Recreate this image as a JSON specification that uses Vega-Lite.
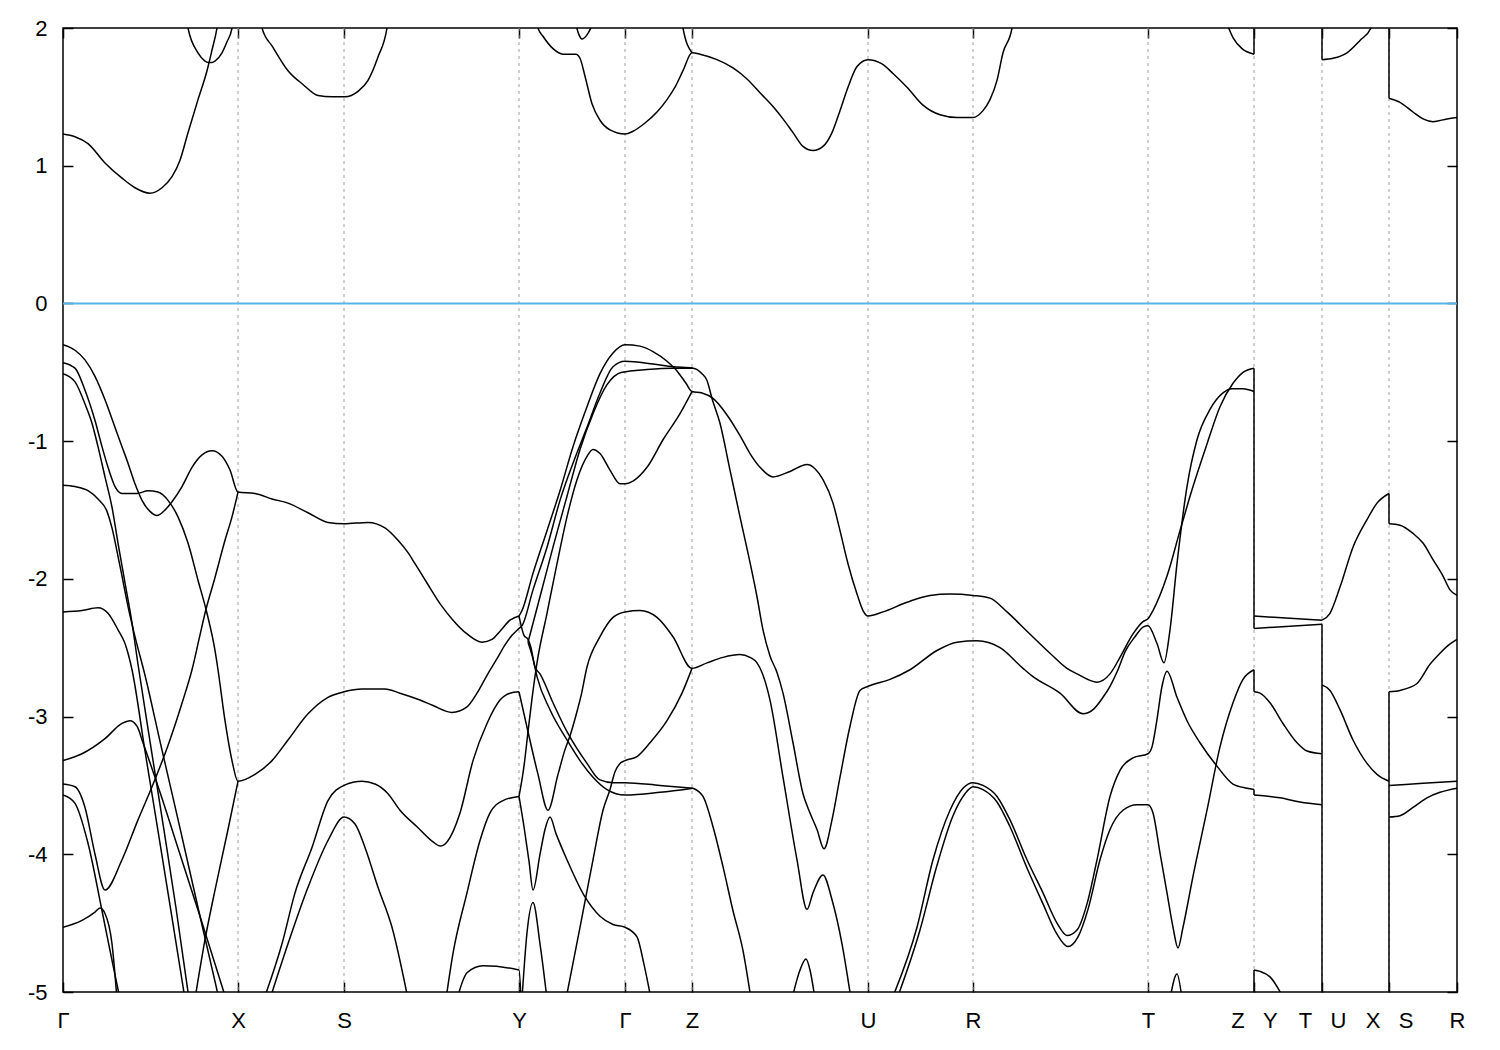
{
"$schema":"https://vega.github.io/schema/vega-lite/v6.json",
"width":1394,"height":964,
"autosize":{"type":"none"},
"padding":{"left":63,"top":28,"right":43,"bottom":58},
"background":"white",
"config":{"view":{"stroke":"black","strokeWidth":1.5},"font":"Liberation Sans"},
"resolve":{"axis":{"x":"independent","y":"independent"}},
"layer":[
{"data":{"values":[{"k":175},{"k":281},{"k":456},{"k":562},{"k":629},{"k":805},{"k":910},{"k":1085},{"k":1191},{"k":1259},{"k":1326}]},
 "mark":{"type":"rule","color":"#a0a0a0","strokeDash":[3,4],"strokeWidth":1},
 "encoding":{"x":{"field":"k","type":"quantitative","scale":{"domain":[0,1394],"nice":false,"zero":false},
  "axis":{"orient":"top","values":[0,175,281,456,562,629,805,910,1085,1191,1259,1326,1394],"labels":false,"tickSize":-10,"tickColor":"black","tickWidth":1.5,"domain":false,"grid":false,"title":null}}}},
{"data":{"values":[{"e":0}]},
 "mark":{"type":"rule","color":"#56b4e9","strokeWidth":2},
 "encoding":{"y":{"field":"e","type":"quantitative","scale":{"domain":[-5,2],"nice":false,"zero":false},
  "axis":{"orient":"right","values":[-5,-4,-3,-2,-1,0,1,2],"labels":false,"tickSize":-10,"tickColor":"black","tickWidth":1.5,"domain":false,"grid":false,"title":null}}}},
{"data":{"values":[
{"x":1191,"y":1.81,"y2":2.1},{"x":1259,"y":1.77,"y2":2.1},{"x":1326,"y":1.49,"y2":2.1},
{"x":1191,"y":-2.36,"y2":-0.47},{"x":1191,"y":-2.82,"y2":-2.66},{"x":1191,"y":-3.57,"y2":-3.53},{"x":1191,"y":-5.05,"y2":-4.84},
{"x":1259,"y":-5.05,"y2":-2.33},
{"x":1326,"y":-1.6,"y2":-1.38},{"x":1326,"y":-5.05,"y2":-2.82}]},
 "mark":{"type":"rule","color":"black","strokeWidth":1.5,"clip":true},
 "encoding":{"x":{"field":"x","type":"quantitative","axis":null},"y":{"field":"y","type":"quantitative","axis":null},"y2":{"field":"y2"}}},
{"data":{"values":[
{"b":"c1","x":0,"y":1.23},{"b":"c1","x":12,"y":1.21},{"b":"c1","x":25,"y":1.16},{"b":"c1","x":42,"y":1.02},{"b":"c1","x":59,"y":0.91},{"b":"c1","x":72,"y":0.84},{"b":"c1","x":87,"y":0.8},{"b":"c1","x":99,"y":0.84},{"b":"c1","x":109,"y":0.92},{"b":"c1","x":117,"y":1.04},{"b":"c1","x":125,"y":1.24},{"b":"c1","x":135,"y":1.48},{"b":"c1","x":144,"y":1.69},{"b":"c1","x":149,"y":1.84},{"b":"c1","x":154,"y":2.0},{"b":"c1","x":156,"y":2.1},
{"b":"c2","x":123,"y":2.1},{"b":"c2","x":125,"y":2.0},{"b":"c2","x":135,"y":1.82},{"b":"c2","x":142,"y":1.76},{"b":"c2","x":145,"y":1.75},{"b":"c2","x":149,"y":1.75},{"b":"c2","x":152,"y":1.76},{"b":"c2","x":159,"y":1.82},{"b":"c2","x":164,"y":1.9},{"b":"c2","x":169,"y":2.0},{"b":"c2","x":171,"y":2.1},
{"b":"c3","x":196,"y":2.1},{"b":"c3","x":199,"y":2.0},{"b":"c3","x":210,"y":1.86},{"b":"c3","x":225,"y":1.69},{"b":"c3","x":240,"y":1.59},{"b":"c3","x":255,"y":1.51},{"b":"c3","x":269,"y":1.5},{"b":"c3","x":282,"y":1.5},{"b":"c3","x":295,"y":1.54},{"b":"c3","x":305,"y":1.62},{"b":"c3","x":315,"y":1.79},{"b":"c3","x":324,"y":2.0},{"b":"c3","x":326,"y":2.1},
{"b":"c4","x":473,"y":2.1},{"b":"c4","x":475,"y":2.0},{"b":"c4","x":480,"y":1.94},{"b":"c4","x":490,"y":1.85},{"b":"c4","x":500,"y":1.81},{"b":"c4","x":513,"y":1.81},{"b":"c4","x":517,"y":1.78},{"b":"c4","x":522,"y":1.65},{"b":"c4","x":529,"y":1.45},{"b":"c4","x":537,"y":1.33},{"b":"c4","x":547,"y":1.26},{"b":"c4","x":562,"y":1.23},{"b":"c4","x":570,"y":1.25},{"b":"c4","x":582,"y":1.31},{"b":"c4","x":594,"y":1.39},{"b":"c4","x":604,"y":1.48},{"b":"c4","x":612,"y":1.57},{"b":"c4","x":620,"y":1.69},{"b":"c4","x":629,"y":1.82},{"b":"c4","x":637,"y":1.81},{"b":"c4","x":654,"y":1.77},{"b":"c4","x":670,"y":1.71},{"b":"c4","x":684,"y":1.63},{"b":"c4","x":697,"y":1.53},{"b":"c4","x":710,"y":1.43},{"b":"c4","x":720,"y":1.34},{"b":"c4","x":730,"y":1.24},{"b":"c4","x":740,"y":1.14},{"b":"c4","x":750,"y":1.11},{"b":"c4","x":760,"y":1.14},{"b":"c4","x":769,"y":1.24},{"b":"c4","x":777,"y":1.4},{"b":"c4","x":785,"y":1.57},{"b":"c4","x":794,"y":1.72},{"b":"c4","x":805,"y":1.77},{"b":"c4","x":819,"y":1.74},{"b":"c4","x":830,"y":1.67},{"b":"c4","x":844,"y":1.57},{"b":"c4","x":860,"y":1.44},{"b":"c4","x":877,"y":1.37},{"b":"c4","x":894,"y":1.35},{"b":"c4","x":910,"y":1.35},{"b":"c4","x":920,"y":1.4},{"b":"c4","x":927,"y":1.48},{"b":"c4","x":934,"y":1.62},{"b":"c4","x":940,"y":1.82},{"b":"c4","x":949,"y":2.0},{"b":"c4","x":951,"y":2.1},
{"b":"c5","x":618,"y":2.1},{"b":"c5","x":620,"y":2.0},{"b":"c5","x":629,"y":1.82},
{"b":"c6","x":512,"y":2.05},{"b":"c6","x":516,"y":1.95},{"b":"c6","x":519,"y":1.92},{"b":"c6","x":524,"y":1.95},{"b":"c6","x":531,"y":2.05},
{"b":"c7","x":1163,"y":2.05},{"b":"c7","x":1170,"y":1.93},{"b":"c7","x":1179,"y":1.85},{"b":"c7","x":1191,"y":1.81},
{"b":"c8","x":1259,"y":1.77},{"b":"c8","x":1270,"y":1.78},{"b":"c8","x":1284,"y":1.82},{"b":"c8","x":1297,"y":1.91},{"b":"c8","x":1308,"y":2.0},{"b":"c8","x":1310,"y":2.1},
{"b":"c9","x":1326,"y":1.49},{"b":"c9","x":1337,"y":1.46},{"b":"c9","x":1350,"y":1.39},{"b":"c9","x":1360,"y":1.34},{"b":"c9","x":1370,"y":1.32},{"b":"c9","x":1384,"y":1.34},{"b":"c9","x":1394,"y":1.35},
{"b":"v1","x":0,"y":-0.3},{"b":"v1","x":12,"y":-0.34},{"b":"v1","x":22,"y":-0.41},{"b":"v1","x":32,"y":-0.53},{"b":"v1","x":42,"y":-0.7},{"b":"v1","x":52,"y":-0.9},{"b":"v1","x":59,"y":-1.04},{"b":"v1","x":65,"y":-1.16},{"b":"v1","x":72,"y":-1.31},{"b":"v1","x":79,"y":-1.43},{"b":"v1","x":87,"y":-1.51},{"b":"v1","x":94,"y":-1.54},{"b":"v1","x":102,"y":-1.5},{"b":"v1","x":109,"y":-1.44},{"b":"v1","x":119,"y":-1.33},{"b":"v1","x":129,"y":-1.19},{"b":"v1","x":139,"y":-1.1},{"b":"v1","x":149,"y":-1.07},{"b":"v1","x":159,"y":-1.11},{"b":"v1","x":167,"y":-1.21},{"b":"v1","x":175,"y":-1.37},{"b":"v1","x":192,"y":-1.38},{"b":"v1","x":209,"y":-1.42},{"b":"v1","x":225,"y":-1.45},{"b":"v1","x":245,"y":-1.52},{"b":"v1","x":265,"y":-1.59},{"b":"v1","x":281,"y":-1.6},{"b":"v1","x":305,"y":-1.59},{"b":"v1","x":322,"y":-1.63},{"b":"v1","x":335,"y":-1.72},{"b":"v1","x":345,"y":-1.81},{"b":"v1","x":352,"y":-1.89},{"b":"v1","x":364,"y":-2.03},{"b":"v1","x":377,"y":-2.18},{"b":"v1","x":390,"y":-2.3},{"b":"v1","x":404,"y":-2.4},{"b":"v1","x":419,"y":-2.46},{"b":"v1","x":429,"y":-2.44},{"b":"v1","x":437,"y":-2.38},{"b":"v1","x":447,"y":-2.3},{"b":"v1","x":456,"y":-2.27},
{"b":"r1","x":456,"y":-2.27},{"b":"r1","x":459,"y":-2.23},{"b":"r1","x":470,"y":-1.96},{"b":"r1","x":484,"y":-1.65},{"b":"r1","x":497,"y":-1.36},{"b":"r1","x":510,"y":-1.04},{"b":"r1","x":524,"y":-0.75},{"b":"r1","x":537,"y":-0.51},{"b":"r1","x":550,"y":-0.36},{"b":"r1","x":562,"y":-0.3},{"b":"r1","x":577,"y":-0.31},{"b":"r1","x":590,"y":-0.35},{"b":"r1","x":604,"y":-0.42},{"b":"r1","x":614,"y":-0.49},{"b":"r1","x":623,"y":-0.58},{"b":"r1","x":629,"y":-0.64},{"b":"r1","x":639,"y":-0.65},{"b":"r1","x":650,"y":-0.69},{"b":"r1","x":664,"y":-0.81},{"b":"r1","x":677,"y":-0.96},{"b":"r1","x":687,"y":-1.09},{"b":"r1","x":697,"y":-1.19},{"b":"r1","x":710,"y":-1.26},{"b":"r1","x":727,"y":-1.22},{"b":"r1","x":744,"y":-1.17},{"b":"r1","x":752,"y":-1.2},{"b":"r1","x":760,"y":-1.28},{"b":"r1","x":770,"y":-1.45},{"b":"r1","x":777,"y":-1.65},{"b":"r1","x":785,"y":-1.89},{"b":"r1","x":794,"y":-2.11},{"b":"r1","x":800,"y":-2.23},{"b":"r1","x":805,"y":-2.27},{"b":"r1","x":820,"y":-2.24},{"b":"r1","x":844,"y":-2.17},{"b":"r1","x":867,"y":-2.12},{"b":"r1","x":887,"y":-2.11},{"b":"r1","x":910,"y":-2.12},{"b":"r1","x":927,"y":-2.14},{"b":"r1","x":944,"y":-2.24},{"b":"r1","x":964,"y":-2.38},{"b":"r1","x":987,"y":-2.54},{"b":"r1","x":1004,"y":-2.65},{"b":"r1","x":1014,"y":-2.69},{"b":"r1","x":1034,"y":-2.75},{"b":"r1","x":1047,"y":-2.69},{"b":"r1","x":1057,"y":-2.57},{"b":"r1","x":1070,"y":-2.4},{"b":"r1","x":1080,"y":-2.31},{"b":"r1","x":1085,"y":-2.29},{"b":"r1","x":1090,"y":-2.23},{"b":"r1","x":1104,"y":-1.98},{"b":"r1","x":1117,"y":-1.65},{"b":"r1","x":1130,"y":-1.33},{"b":"r1","x":1144,"y":-1.02},{"b":"r1","x":1157,"y":-0.75},{"b":"r1","x":1170,"y":-0.58},{"b":"r1","x":1180,"y":-0.5},{"b":"r1","x":1191,"y":-0.47},
{"b":"v2","x":0,"y":-0.43},{"b":"v2","x":12,"y":-0.47},{"b":"v2","x":22,"y":-0.63},{"b":"v2","x":32,"y":-0.85},{"b":"v2","x":39,"y":-1.04},{"b":"v2","x":45,"y":-1.19},{"b":"v2","x":52,"y":-1.33},{"b":"v2","x":59,"y":-1.38},{"b":"v2","x":74,"y":-1.38},{"b":"v2","x":85,"y":-1.36},{"b":"v2","x":95,"y":-1.37},{"b":"v2","x":105,"y":-1.43},{"b":"v2","x":115,"y":-1.55},{"b":"v2","x":125,"y":-1.74},{"b":"v2","x":135,"y":-2.01},{"b":"v2","x":144,"y":-2.25},{"b":"v2","x":152,"y":-2.52},{"b":"v2","x":155,"y":-2.66},{"b":"v2","x":162,"y":-3.03},{"b":"v2","x":169,"y":-3.32},{"b":"v2","x":175,"y":-3.47},{"b":"v2","x":192,"y":-3.42},{"b":"v2","x":209,"y":-3.32},{"b":"v2","x":225,"y":-3.17},{"b":"v2","x":245,"y":-2.98},{"b":"v2","x":265,"y":-2.86},{"b":"v2","x":281,"y":-2.82},{"b":"v2","x":299,"y":-2.8},{"b":"v2","x":322,"y":-2.8},{"b":"v2","x":337,"y":-2.83},{"b":"v2","x":357,"y":-2.88},{"b":"v2","x":370,"y":-2.92},{"b":"v2","x":389,"y":-2.97},{"b":"v2","x":404,"y":-2.93},{"b":"v2","x":414,"y":-2.83},{"b":"v2","x":424,"y":-2.7},{"b":"v2","x":434,"y":-2.58},{"b":"v2","x":442,"y":-2.48},{"b":"v2","x":449,"y":-2.41},{"b":"v2","x":456,"y":-2.36},{"b":"v2","x":459,"y":-2.34},{"b":"v2","x":470,"y":-2.08},{"b":"v2","x":484,"y":-1.77},{"b":"v2","x":497,"y":-1.43},{"b":"v2","x":510,"y":-1.16},{"b":"v2","x":524,"y":-0.9},{"b":"v2","x":537,"y":-0.65},{"b":"v2","x":550,"y":-0.46},{"b":"v2","x":562,"y":-0.42},{"b":"v2","x":590,"y":-0.44},{"b":"v2","x":610,"y":-0.46},{"b":"v2","x":630,"y":-0.47},{"b":"v2","x":639,"y":-0.51},{"b":"v2","x":644,"y":-0.56},{"b":"v2","x":649,"y":-0.69},{"b":"v2","x":657,"y":-0.87},{"b":"v2","x":667,"y":-1.21},{"b":"v2","x":677,"y":-1.55},{"b":"v2","x":687,"y":-1.88},{"b":"v2","x":694,"y":-2.13},{"b":"v2","x":700,"y":-2.37},{"b":"v2","x":707,"y":-2.56},{"b":"v2","x":714,"y":-2.68},{"b":"v2","x":720,"y":-2.83},{"b":"v2","x":730,"y":-3.19},{"b":"v2","x":740,"y":-3.56},{"b":"v2","x":747,"y":-3.7},{"b":"v2","x":754,"y":-3.82},{"b":"v2","x":761,"y":-3.96},{"b":"v2","x":769,"y":-3.75},{"b":"v2","x":777,"y":-3.44},{"b":"v2","x":787,"y":-3.07},{"b":"v2","x":797,"y":-2.81},{"b":"v2","x":805,"y":-2.78},{"b":"v2","x":827,"y":-2.73},{"b":"v2","x":847,"y":-2.66},{"b":"v2","x":874,"y":-2.52},{"b":"v2","x":894,"y":-2.46},{"b":"v2","x":914,"y":-2.45},{"b":"v2","x":937,"y":-2.5},{"b":"v2","x":960,"y":-2.65},{"b":"v2","x":970,"y":-2.71},{"b":"v2","x":997,"y":-2.83},{"b":"v2","x":1020,"y":-2.98},{"b":"v2","x":1030,"y":-2.95},{"b":"v2","x":1040,"y":-2.86},{"b":"v2","x":1047,"y":-2.78},{"b":"v2","x":1055,"y":-2.66},{"b":"v2","x":1062,"y":-2.53},{"b":"v2","x":1072,"y":-2.42},{"b":"v2","x":1080,"y":-2.35},{"b":"v2","x":1085,"y":-2.34},{"b":"v2","x":1094,"y":-2.47},{"b":"v2","x":1101,"y":-2.61},{"b":"v2","x":1107,"y":-2.37},{"b":"v2","x":1114,"y":-1.89},{"b":"v2","x":1124,"y":-1.33},{"b":"v2","x":1134,"y":-0.99},{"b":"v2","x":1147,"y":-0.77},{"b":"v2","x":1160,"y":-0.65},{"b":"v2","x":1169,"y":-0.62},{"b":"v2","x":1180,"y":-0.62},{"b":"v2","x":1191,"y":-0.64},
{"b":"v3","x":0,"y":-0.51},{"b":"v3","x":12,"y":-0.57},{"b":"v3","x":22,"y":-0.73},{"b":"v3","x":29,"y":-0.87},{"b":"v3","x":35,"y":-1.04},{"b":"v3","x":42,"y":-1.26},{"b":"v3","x":49,"y":-1.48},{"b":"v3","x":55,"y":-1.74},{"b":"v3","x":62,"y":-2.03},{"b":"v3","x":69,"y":-2.32},{"b":"v3","x":75,"y":-2.62},{"b":"v3","x":87,"y":-3.18},{"b":"v3","x":100,"y":-3.78},{"b":"v3","x":113,"y":-4.39},{"b":"v3","x":126,"y":-5.05},
{"b":"r3","x":465,"y":-2.46},{"b":"r3","x":477,"y":-2.13},{"b":"r3","x":490,"y":-1.77},{"b":"r3","x":504,"y":-1.4},{"b":"r3","x":517,"y":-1.06},{"b":"r3","x":530,"y":-0.8},{"b":"r3","x":544,"y":-0.59},{"b":"r3","x":559,"y":-0.5},{"b":"r3","x":584,"y":-0.48},{"b":"r3","x":610,"y":-0.47},{"b":"r3","x":630,"y":-0.47},
{"b":"v4","x":0,"y":-1.32},{"b":"v4","x":12,"y":-1.33},{"b":"v4","x":25,"y":-1.36},{"b":"v4","x":35,"y":-1.42},{"b":"v4","x":44,"y":-1.51},{"b":"v4","x":49,"y":-1.63},{"b":"v4","x":54,"y":-1.8},{"b":"v4","x":59,"y":-1.98},{"b":"v4","x":65,"y":-2.2},{"b":"v4","x":72,"y":-2.42},{"b":"v4","x":82,"y":-2.7},{"b":"v4","x":97,"y":-3.18},{"b":"v4","x":117,"y":-3.81},{"b":"v4","x":137,"y":-4.45},{"b":"v4","x":156,"y":-5.05},
{"b":"v5","x":0,"y":-2.24},{"b":"v5","x":19,"y":-2.23},{"b":"v5","x":35,"y":-2.21},{"b":"v5","x":45,"y":-2.25},{"b":"v5","x":55,"y":-2.37},{"b":"v5","x":62,"y":-2.47},{"b":"v5","x":69,"y":-2.66},{"b":"v5","x":82,"y":-3.25},{"b":"v5","x":95,"y":-3.83},{"b":"v5","x":109,"y":-4.46},{"b":"v5","x":122,"y":-5.05},
{"b":"p","x":0,"y":-3.32},{"b":"p","x":19,"y":-3.27},{"b":"p","x":42,"y":-3.16},{"b":"p","x":59,"y":-3.05},{"b":"p","x":67,"y":-3.03},{"b":"p","x":74,"y":-3.07},{"b":"p","x":80,"y":-3.19},{"b":"p","x":97,"y":-3.55},{"b":"p","x":117,"y":-4.0},{"b":"p","x":137,"y":-4.45},{"b":"p","x":163,"y":-5.05},
{"b":"v6","x":0,"y":-3.49},{"b":"v6","x":12,"y":-3.51},{"b":"v6","x":22,"y":-3.66},{"b":"v6","x":32,"y":-4.0},{"b":"v6","x":42,"y":-4.26},{"b":"v6","x":59,"y":-4.04},{"b":"v6","x":75,"y":-3.75},{"b":"v6","x":89,"y":-3.51},{"b":"v6","x":105,"y":-3.21},{"b":"v6","x":120,"y":-2.88},{"b":"v6","x":129,"y":-2.66},{"b":"v6","x":136,"y":-2.44},{"b":"v6","x":142,"y":-2.25},{"b":"v6","x":152,"y":-1.99},{"b":"v6","x":162,"y":-1.72},{"b":"v6","x":169,"y":-1.55},{"b":"v6","x":175,"y":-1.37},
{"b":"g1","x":0,"y":-3.57},{"b":"g1","x":12,"y":-3.63},{"b":"g1","x":25,"y":-3.92},{"b":"g1","x":39,"y":-4.41},{"b":"g1","x":49,"y":-4.77},{"b":"g1","x":57,"y":-5.05},
{"b":"g2","x":0,"y":-4.53},{"b":"g2","x":19,"y":-4.48},{"b":"g2","x":32,"y":-4.42},{"b":"g2","x":37,"y":-4.39},{"b":"g2","x":42,"y":-4.43},{"b":"g2","x":49,"y":-4.65},{"b":"g2","x":54,"y":-5.05},
{"b":"xl","x":132,"y":-5.05},{"b":"xl","x":142,"y":-4.62},{"b":"xl","x":152,"y":-4.26},{"b":"xl","x":165,"y":-3.82},{"b":"xl","x":175,"y":-3.47},
{"b":"s1","x":201,"y":-5.05},{"b":"s1","x":219,"y":-4.65},{"b":"s1","x":232,"y":-4.28},{"b":"s1","x":249,"y":-3.95},{"b":"s1","x":265,"y":-3.61},{"b":"s1","x":281,"y":-3.5},{"b":"s1","x":299,"y":-3.47},{"b":"s1","x":312,"y":-3.49},{"b":"s1","x":325,"y":-3.56},{"b":"s1","x":337,"y":-3.68},{"b":"s1","x":354,"y":-3.8},{"b":"s1","x":370,"y":-3.91},{"b":"s1","x":377,"y":-3.94},{"b":"s1","x":384,"y":-3.91},{"b":"s1","x":397,"y":-3.7},{"b":"s1","x":410,"y":-3.32},{"b":"s1","x":424,"y":-3.05},{"b":"s1","x":437,"y":-2.88},{"b":"s1","x":447,"y":-2.83},{"b":"s1","x":456,"y":-2.82},
{"b":"s2","x":207,"y":-5.05},{"b":"s2","x":225,"y":-4.65},{"b":"s2","x":245,"y":-4.24},{"b":"s2","x":265,"y":-3.9},{"b":"s2","x":281,"y":-3.73},{"b":"s2","x":292,"y":-3.78},{"b":"s2","x":302,"y":-3.95},{"b":"s2","x":315,"y":-4.24},{"b":"s2","x":329,"y":-4.53},{"b":"s2","x":345,"y":-5.05},
{"b":"y1","x":383,"y":-5.05},{"b":"y1","x":390,"y":-4.72},{"b":"y1","x":404,"y":-4.28},{"b":"y1","x":417,"y":-3.9},{"b":"y1","x":427,"y":-3.7},{"b":"y1","x":440,"y":-3.61},{"b":"y1","x":456,"y":-3.58},
{"b":"y2","x":394,"y":-5.05},{"b":"y2","x":404,"y":-4.86},{"b":"y2","x":420,"y":-4.81},{"b":"y2","x":456,"y":-4.84},{"b":"y2","x":458,"y":-5.05},
{"b":"lam","x":459,"y":-5.05},{"b":"lam","x":464,"y":-4.57},{"b":"lam","x":470,"y":-4.35},{"b":"lam","x":477,"y":-4.65},{"b":"lam","x":484,"y":-5.05},
{"b":"d1","x":456,"y":-2.27},{"b":"d1","x":461,"y":-2.41},{"b":"d1","x":465,"y":-2.44},{"b":"d1","x":468,"y":-2.5},{"b":"d1","x":472,"y":-2.64},{"b":"d1","x":477,"y":-2.69},{"b":"d1","x":490,"y":-2.9},{"b":"d1","x":504,"y":-3.11},{"b":"d1","x":524,"y":-3.34},{"b":"d1","x":537,"y":-3.46},{"b":"d1","x":550,"y":-3.48},{"b":"d1","x":562,"y":-3.48},{"b":"d1","x":597,"y":-3.5},{"b":"d1","x":630,"y":-3.52},
{"b":"d2","x":465,"y":-2.46},{"b":"d2","x":470,"y":-2.58},{"b":"d2","x":474,"y":-2.71},{"b":"d2","x":487,"y":-2.95},{"b":"d2","x":504,"y":-3.17},{"b":"d2","x":517,"y":-3.32},{"b":"d2","x":530,"y":-3.44},{"b":"d2","x":544,"y":-3.53},{"b":"d2","x":562,"y":-3.57},{"b":"d2","x":597,"y":-3.55},{"b":"d2","x":630,"y":-3.52},
{"b":"zl","x":630,"y":-3.52},{"b":"zl","x":640,"y":-3.58},{"b":"zl","x":650,"y":-3.8},{"b":"zl","x":660,"y":-4.09},{"b":"zl","x":670,"y":-4.41},{"b":"zl","x":680,"y":-4.7},{"b":"zl","x":688,"y":-5.05},
{"b":"m1","x":456,"y":-2.82},{"b":"m1","x":465,"y":-3.11},{"b":"m1","x":475,"y":-3.42},{"b":"m1","x":485,"y":-3.68},{"b":"m1","x":495,"y":-3.42},{"b":"m1","x":502,"y":-3.24},{"b":"m1","x":507,"y":-3.14},{"b":"m1","x":513,"y":-2.99},{"b":"m1","x":518,"y":-2.85},{"b":"m1","x":524,"y":-2.64},{"b":"m1","x":537,"y":-2.42},{"b":"m1","x":550,"y":-2.28},{"b":"m1","x":562,"y":-2.24},{"b":"m1","x":577,"y":-2.23},{"b":"m1","x":594,"y":-2.28},{"b":"m1","x":610,"y":-2.42},{"b":"m1","x":629,"y":-2.65},{"b":"m1","x":644,"y":-2.61},{"b":"m1","x":660,"y":-2.57},{"b":"m1","x":677,"y":-2.55},{"b":"m1","x":687,"y":-2.57},{"b":"m1","x":694,"y":-2.61},{"b":"m1","x":699,"y":-2.68},{"b":"m1","x":707,"y":-2.88},{"b":"m1","x":720,"y":-3.44},{"b":"m1","x":734,"y":-4.04},{"b":"m1","x":744,"y":-4.4},{"b":"m1","x":750,"y":-4.28},{"b":"m1","x":760,"y":-4.15},{"b":"m1","x":769,"y":-4.33},{"b":"m1","x":779,"y":-4.65},{"b":"m1","x":788,"y":-5.05},
{"b":"m2","x":456,"y":-3.58},{"b":"m2","x":461,"y":-3.36},{"b":"m2","x":465,"y":-3.11},{"b":"m2","x":469,"y":-2.87},{"b":"m2","x":474,"y":-2.61},{"b":"m2","x":484,"y":-2.25},{"b":"m2","x":494,"y":-1.89},{"b":"m2","x":504,"y":-1.55},{"b":"m2","x":514,"y":-1.28},{"b":"m2","x":524,"y":-1.11},{"b":"m2","x":530,"y":-1.06},{"b":"m2","x":537,"y":-1.09},{"b":"m2","x":547,"y":-1.21},{"b":"m2","x":557,"y":-1.31},{"b":"m2","x":562,"y":-1.31},{"b":"m2","x":570,"y":-1.29},{"b":"m2","x":584,"y":-1.19},{"b":"m2","x":600,"y":-0.99},{"b":"m2","x":617,"y":-0.8},{"b":"m2","x":629,"y":-0.64},
{"b":"m3","x":456,"y":-3.58},{"b":"m3","x":461,"y":-3.8},{"b":"m3","x":466,"y":-4.05},{"b":"m3","x":470,"y":-4.26},{"b":"m3","x":477,"y":-4.0},{"b":"m3","x":482,"y":-3.82},{"b":"m3","x":487,"y":-3.73},{"b":"m3","x":493,"y":-3.85},{"b":"m3","x":504,"y":-4.04},{"b":"m3","x":522,"y":-4.31},{"b":"m3","x":537,"y":-4.45},{"b":"m3","x":550,"y":-4.51},{"b":"m3","x":562,"y":-4.53},{"b":"m3","x":574,"y":-4.6},{"b":"m3","x":581,"y":-4.8},{"b":"m3","x":588,"y":-5.05},
{"b":"rl","x":503,"y":-5.05},{"b":"rl","x":517,"y":-4.53},{"b":"rl","x":530,"y":-4.04},{"b":"rl","x":540,"y":-3.68},{"b":"rl","x":547,"y":-3.53},{"b":"rl","x":552,"y":-3.4},{"b":"rl","x":557,"y":-3.34},{"b":"rl","x":562,"y":-3.32},{"b":"rl","x":574,"y":-3.29},{"b":"rl","x":587,"y":-3.19},{"b":"rl","x":604,"y":-3.03},{"b":"rl","x":619,"y":-2.83},{"b":"rl","x":629,"y":-2.65},
{"b":"zu","x":729,"y":-5.05},{"b":"zu","x":737,"y":-4.84},{"b":"zu","x":743,"y":-4.76},{"b":"zu","x":747,"y":-4.84},{"b":"zu","x":752,"y":-5.05},
{"b":"l1","x":829,"y":-5.05},{"b":"l1","x":854,"y":-4.53},{"b":"l1","x":870,"y":-4.04},{"b":"l1","x":887,"y":-3.68},{"b":"l1","x":900,"y":-3.52},{"b":"l1","x":910,"y":-3.48},{"b":"l1","x":920,"y":-3.5},{"b":"l1","x":934,"y":-3.58},{"b":"l1","x":947,"y":-3.75},{"b":"l1","x":964,"y":-4.04},{"b":"l1","x":980,"y":-4.28},{"b":"l1","x":994,"y":-4.5},{"b":"l1","x":1004,"y":-4.59},{"b":"l1","x":1014,"y":-4.55},{"b":"l1","x":1024,"y":-4.36},{"b":"l1","x":1034,"y":-4.04},{"b":"l1","x":1047,"y":-3.58},{"b":"l1","x":1057,"y":-3.39},{"b":"l1","x":1070,"y":-3.3},{"b":"l1","x":1085,"y":-3.27},{"b":"l1","x":1089,"y":-3.22},{"b":"l1","x":1094,"y":-3.02},{"b":"l1","x":1099,"y":-2.78},{"b":"l1","x":1104,"y":-2.67},{"b":"l1","x":1114,"y":-2.86},{"b":"l1","x":1124,"y":-3.03},{"b":"l1","x":1137,"y":-3.19},{"b":"l1","x":1154,"y":-3.36},{"b":"l1","x":1170,"y":-3.49},{"b":"l1","x":1184,"y":-3.52},{"b":"l1","x":1191,"y":-3.53},
{"b":"l2","x":834,"y":-5.05},{"b":"l2","x":857,"y":-4.55},{"b":"l2","x":874,"y":-4.08},{"b":"l2","x":890,"y":-3.72},{"b":"l2","x":902,"y":-3.56},{"b":"l2","x":910,"y":-3.51},{"b":"l2","x":920,"y":-3.53},{"b":"l2","x":934,"y":-3.62},{"b":"l2","x":947,"y":-3.8},{"b":"l2","x":964,"y":-4.1},{"b":"l2","x":980,"y":-4.36},{"b":"l2","x":994,"y":-4.58},{"b":"l2","x":1005,"y":-4.67},{"b":"l2","x":1015,"y":-4.6},{"b":"l2","x":1025,"y":-4.4},{"b":"l2","x":1037,"y":-4.04},{"b":"l2","x":1047,"y":-3.82},{"b":"l2","x":1060,"y":-3.68},{"b":"l2","x":1074,"y":-3.64},{"b":"l2","x":1085,"y":-3.64},{"b":"l2","x":1090,"y":-3.7},{"b":"l2","x":1097,"y":-3.99},{"b":"l2","x":1104,"y":-4.28},{"b":"l2","x":1110,"y":-4.53},{"b":"l2","x":1115,"y":-4.68},{"b":"l2","x":1120,"y":-4.53},{"b":"l2","x":1130,"y":-4.16},{"b":"l2","x":1144,"y":-3.68},{"b":"l2","x":1157,"y":-3.22},{"b":"l2","x":1170,"y":-2.9},{"b":"l2","x":1180,"y":-2.73},{"b":"l2","x":1191,"y":-2.66},
{"b":"tpk","x":1107,"y":-5.05},{"b":"tpk","x":1114,"y":-4.87},{"b":"tpk","x":1119,"y":-5.05},
{"b":"yt1","x":1191,"y":-2.27},{"b":"yt1","x":1259,"y":-2.3},
{"b":"yt2","x":1191,"y":-2.36},{"b":"yt2","x":1259,"y":-2.33},
{"b":"yt3","x":1191,"y":-2.82},{"b":"yt3","x":1197,"y":-2.83},{"b":"yt3","x":1207,"y":-2.9},{"b":"yt3","x":1220,"y":-3.05},{"b":"yt3","x":1234,"y":-3.19},{"b":"yt3","x":1244,"y":-3.25},{"b":"yt3","x":1259,"y":-3.27},
{"b":"yt4","x":1191,"y":-3.57},{"b":"yt4","x":1217,"y":-3.59},{"b":"yt4","x":1237,"y":-3.62},{"b":"yt4","x":1259,"y":-3.64},
{"b":"yt5","x":1191,"y":-4.84},{"b":"yt5","x":1197,"y":-4.85},{"b":"yt5","x":1207,"y":-4.89},{"b":"yt5","x":1221,"y":-5.05},
{"b":"ux1","x":1259,"y":-2.3},{"b":"ux1","x":1267,"y":-2.25},{"b":"ux1","x":1277,"y":-2.06},{"b":"ux1","x":1290,"y":-1.77},{"b":"ux1","x":1304,"y":-1.57},{"b":"ux1","x":1314,"y":-1.45},{"b":"ux1","x":1326,"y":-1.38},
{"b":"ux2","x":1259,"y":-2.77},{"b":"ux2","x":1267,"y":-2.81},{"b":"ux2","x":1277,"y":-2.95},{"b":"ux2","x":1290,"y":-3.17},{"b":"ux2","x":1304,"y":-3.34},{"b":"ux2","x":1314,"y":-3.42},{"b":"ux2","x":1326,"y":-3.47},
{"b":"sr1","x":1326,"y":-1.6},{"b":"sr1","x":1337,"y":-1.61},{"b":"sr1","x":1350,"y":-1.67},{"b":"sr1","x":1360,"y":-1.74},{"b":"sr1","x":1370,"y":-1.86},{"b":"sr1","x":1380,"y":-1.98},{"b":"sr1","x":1387,"y":-2.08},{"b":"sr1","x":1394,"y":-2.12},
{"b":"sr2","x":1326,"y":-2.82},{"b":"sr2","x":1337,"y":-2.81},{"b":"sr2","x":1354,"y":-2.76},{"b":"sr2","x":1367,"y":-2.62},{"b":"sr2","x":1377,"y":-2.54},{"b":"sr2","x":1384,"y":-2.49},{"b":"sr2","x":1394,"y":-2.44},
{"b":"sr3","x":1326,"y":-3.5},{"b":"sr3","x":1360,"y":-3.485},{"b":"sr3","x":1394,"y":-3.47},
{"b":"sr4","x":1326,"y":-3.73},{"b":"sr4","x":1337,"y":-3.72},{"b":"sr4","x":1350,"y":-3.66},{"b":"sr4","x":1364,"y":-3.59},{"b":"sr4","x":1377,"y":-3.55},{"b":"sr4","x":1394,"y":-3.52}
]},
 "mark":{"type":"line","clip":true,"color":"black","strokeWidth":1.5,"interpolate":"monotone"},
 "encoding":{
  "x":{"field":"x","type":"quantitative","scale":{"domain":[0,1394],"nice":false,"zero":false},
   "axis":{"orient":"bottom","values":[0,175,281,456,562,629,805,910,1085,1191,1259,1326,1394],
    "labelExpr":"['Γ','X','S','Y','Γ','Z','U','R','T','Z\u00a0\u00a0\u00a0Y','T\u00a0\u00a0\u00a0U','X\u00a0\u00a0\u00a0S','R'][indexof([0,175,281,456,562,629,805,910,1085,1191,1259,1326,1394],datum.value)]",
    "labelFont":"Liberation Sans","labelFontSize":22,"labelColor":"black","labelFlush":false,"labelOverlap":false,"labelPadding":28,
    "tickSize":-10,"tickColor":"black","tickWidth":1.5,"domain":false,"grid":false,"title":null}},
  "y":{"field":"y","type":"quantitative","scale":{"domain":[-5,2],"nice":false,"zero":false},
   "axis":{"orient":"left","values":[-5,-4,-3,-2,-1,0,1,2],"labelExpr":"''+datum.value",
    "labelFont":"Liberation Sans","labelFontSize":22,"labelColor":"black","labelFlush":false,"labelOverlap":false,"labelPadding":26,
    "tickSize":-10,"tickColor":"black","tickWidth":1.5,"domain":false,"grid":false,"title":null}},
  "detail":{"field":"b"}}}
]
}
